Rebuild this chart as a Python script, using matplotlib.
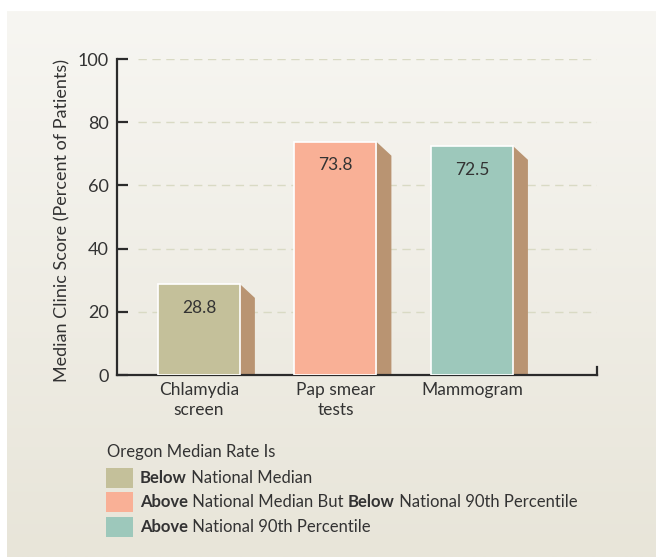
import numpy as np
import matplotlib
matplotlib.use("Agg")
import matplotlib.pyplot as plt
from matplotlib.patches import Polygon, Rectangle

plt.rcParams["font.family"] = ["Lato", "DejaVu Sans"]

categories = ["Chlamydia\nscreen", "Pap smear\ntests", "Mammogram"]
scores = [28.8, 73.8, 72.5]
bar_colors = ["#c4c09a", "#f9b096", "#9dc8bb"]
side_color = "#b99472"
yticks = [0, 20, 40, 60, 80, 100]

legend_title = "Oregon Median Rate Is"
legend_rows = [
    [("Below", True), (" National Median", False)],
    [("Above", True), (" National Median But ", False), ("Below", True), (" National 90th Percentile", False)],
    [("Above", True), (" National 90th Percentile", False)],
]

W, H = 656, 557
fig = plt.figure(figsize=(W / 100, H / 100), dpi=100, facecolor="white")
txt = "#333333"

# background panel with soft vertical gradient
bg = fig.add_axes([0, 0, 1, 1], zorder=-5)
bg.set_xlim(0, W)
bg.set_ylim(H, 0)
bg.axis("off")
grad = np.linspace(0, 1, 256).reshape(-1, 1)
top = np.array([247, 246, 242]) / 255
bot = np.array([232, 229, 217]) / 255
img = top + (bot - top) * grad[..., None]
bg.imshow(img, extent=(7, W, H, 11), aspect="auto")

ax = fig.add_axes([117 / W, 182 / H, 480 / W, 316 / H])
ax.patch.set_alpha(0)
x = np.arange(len(scores))
ax.set_xlim(-0.6, 2.916)
ax.set_ylim(0, 100)

# dashed guides behind the bars
for t in yticks[1:]:
    ax.plot([-0.446, 2.916], [t, t], color="#d9dac4", lw=1, ls=(0, (6, 4)), zorder=0)

w = 0.6
dx, dy = 0.11, 4.4
ax.bar(x, scores, width=w, color=bar_colors, edgecolor="white", linewidth=1.2, zorder=3)
for xi, v in zip(x, scores):
    side = Polygon([(xi + w / 2, 0), (xi + w / 2, v), (xi + w / 2 + dx, v - dy), (xi + w / 2 + dx, 0)],
                   closed=True, facecolor=side_color, edgecolor="none", zorder=2)
    ax.add_patch(side)
    ax.annotate(f"{v}", (xi, v), xytext=(0, -17), textcoords="offset points",
                ha="center", va="center", fontsize=12.5, color=txt, zorder=4)

for s in ["top", "right"]:
    ax.spines[s].set_visible(False)
for s in ["left", "bottom"]:
    ax.spines[s].set_color("#2b2b2b")
    ax.spines[s].set_linewidth(1.6)

ax.set_yticks(yticks)
ax.set_yticklabels([str(t) for t in yticks], fontsize=13, color=txt)
ax.tick_params(axis="y", direction="in", length=8, width=1.6, color="#2b2b2b", pad=6)
ax.set_xticks(x)
ax.set_xticklabels(categories, fontsize=12.5, color=txt, linespacing=1.35)
ax.tick_params(axis="x", length=0, pad=5)
ax.plot([2.916, 2.916], [0, 2.5], color="#2b2b2b", lw=1.6, clip_on=False, zorder=5)

fig.text(62 / W, 1 - 220 / H, "Median Clinic Score (Percent of Patients)", rotation=90,
         ha="center", va="center", fontsize=13, color=txt)

# legend
fig.text(107 / W, 1 - 452 / H, legend_title, ha="left", va="center", fontsize=12, color=txt)
box_tops = [468, 492, 517]
for color, yt, row in zip(bar_colors, box_tops, legend_rows):
    bg.add_patch(Rectangle((106, yt), 27, 20, facecolor=color, edgecolor="none"))
    prev = None
    for piece, bold in row:
        kw = dict(fontsize=12, color=txt, fontweight="bold" if bold else "normal")
        if prev is None:
            prev = bg.text(140, yt + 10, piece, ha="left", va="center", **kw)
        else:
            prev = bg.annotate(piece, xy=(1, 0.5), xycoords=prev, ha="left", va="center", **kw)

fig.savefig("out.png", dpi=100, facecolor="white")
